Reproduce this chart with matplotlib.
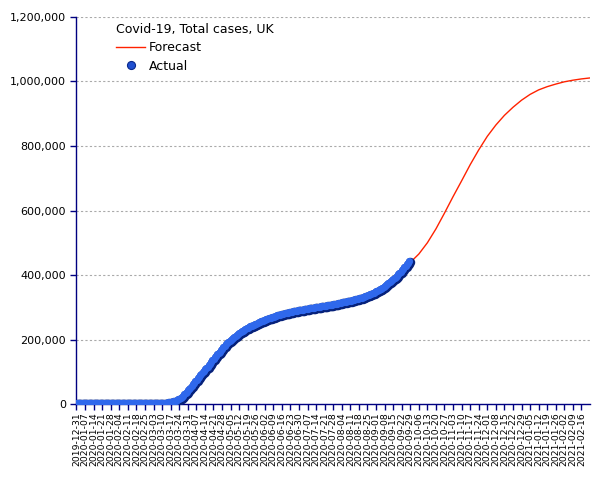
import matplotlib
matplotlib.use("Agg")
import matplotlib.pyplot as plt
import matplotlib.transforms as mtransforms
from matplotlib.lines import Line2D
from matplotlib.ticker import FuncFormatter, MultipleLocator
import pandas as pd

# ---------------- data ----------------
start_date = "2019-12-31"

actual_dec_jan = [0] * 31 + [2]  # 2019-12-31 .. 2020-01-31
actual_feb = [2, 2, 2, 2, 2, 3, 3, 3, 4, 8, 8, 9, 9, 9, 9, 9, 9, 9, 9, 9,
              9, 9, 9, 13, 13, 13, 15, 20, 23]
actual_mar = [36, 40, 51, 85, 115, 163, 206, 273, 321, 373, 460, 600, 800, 1100,
              1500, 2000, 2600, 3400, 4200, 5100, 6300, 7600, 9200, 11000, 13500,
              16200, 19500, 23000, 26500, 30200, 34500]
actual_apr = [39000, 43500, 48000, 53000, 57500, 62000, 67000, 72000, 77000, 81500,
              86000, 90500, 95000, 99500, 104000, 108500, 113000, 117500, 122000,
              127000, 132000, 137000, 141500, 146000, 150500, 155000, 159500,
              164000, 168500, 173000]
actual_may = [177500, 181500, 185500, 189500, 193000, 196500, 200000, 203000, 206000,
              209000, 212000, 214500, 217000, 219500, 222000, 224500, 227000, 229500,
              231500, 233500, 235500, 237500, 239500, 241000, 242800, 244600, 246400,
              248200, 250000, 251600, 253200]
actual_jun = [254800, 256300, 257800, 259300, 260800, 262200, 263600, 265000, 266400,
              267800, 269200, 270500, 271600, 272600, 273600, 274600, 275600, 276600,
              277600, 278600, 279600, 280600, 281600, 282600, 283500, 284300, 285000,
              285700, 286400, 287100]
actual_jul = [287800, 288500, 289200, 289900, 290600, 291300, 292000, 292700, 293400,
              294000, 294600, 295200, 295800, 296400, 297000, 297600, 298200, 298800,
              299400, 300000, 300600, 301200, 301900, 302600, 303300, 304000, 304700,
              305400, 306100, 306900, 307700]
actual_aug = [308500, 309300, 310100, 310900, 311800, 312600, 313400, 314200, 315000,
              315800, 316600, 317500, 318400, 319400, 320400, 321400, 322400, 323400,
              324500, 325700, 327000, 328300, 329600, 331000, 332500, 334000, 335500,
              337000, 338600, 340300, 342000]
actual_sep = [343800, 345800, 347900, 350100, 352400, 355000, 357500, 360000, 362700,
              365500, 368300, 371200, 374100, 377000, 380000, 383500, 387000, 390700,
              394600, 398600, 402700, 407000, 411500, 416000, 420500, 425000, 429500,
              434000, 439000]

# forecast, sampled weekly from 2019-12-31
forecast = [0, 0, 0, 0, 0, 0, 0, 0, 100, 300, 1500, 3000, 14000, 36000, 66000,
            100000, 131000, 164000, 193000, 215000, 232000, 244000, 256000, 266000,
            275000, 282000, 287000, 292000, 296000, 301000, 306000, 312000, 318000,
            324000, 333000, 344000, 360000, 380000, 407000, 439000, 465000, 500000,
            543000, 592000, 643000, 692000, 742000, 788000, 830000, 865000, 895000,
            920000, 942000, 960000, 974000, 984000, 992000, 999000, 1004000, 1008000,
            1011000]

legend_title = "Covid-19, Total cases, UK"
label_forecast = "Forecast"
label_actual = "Actual"

# ---------------- build series ----------------
actual = (actual_dec_jan + actual_feb + actual_mar + actual_apr + actual_may +
          actual_jun + actual_jul + actual_aug + actual_sep)
actual_dates = pd.date_range(start_date, periods=len(actual), freq="D")
forecast_dates = pd.date_range(start_date, periods=len(forecast), freq="7D")
tick_dates = pd.date_range(start_date, "2021-02-16", freq="7D")

# ---------------- plot ----------------
navy = "#000080"
red = "#ff2200"
fig = plt.figure(figsize=(6.05, 4.8), dpi=100)
ax = fig.add_axes([0.1264, 0.1583, 0.9752 - 0.1264, 0.9646 - 0.1583])

ax.plot(forecast_dates, forecast, color=red, lw=1.0, zorder=2)

# sphere-like markers: dark base + lighter offset highlight
ax.plot(actual_dates, actual, ls="none", marker="o", ms=6.8,
        mfc="#06217a", mec="#06217a", mew=0, zorder=3)
hl = mtransforms.offset_copy(ax.transData, fig=fig, x=-1.0, y=1.0, units="dots")
ax.plot(actual_dates, actual, ls="none", marker="o", ms=5.2,
        mfc="#2f68ec", mec="#2f68ec", mew=0, zorder=4, transform=hl)

ax.set_xlim(pd.Timestamp(start_date), pd.Timestamp("2021-02-23"))
ax.set_ylim(0, 1200000)

ax.yaxis.set_major_locator(MultipleLocator(200000))
ax.yaxis.set_major_formatter(FuncFormatter(lambda v, p: f"{int(v):,}"))
ax.set_xticks(tick_dates)
ax.set_xticklabels([d.strftime("%Y-%m-%d") for d in tick_dates], rotation=90,
                   fontsize=6.7)
ax.tick_params(axis="y", labelsize=8, colors=navy, labelcolor="black",
               length=4, width=1)
ax.tick_params(axis="x", colors=navy, labelcolor="black", length=4, width=1, pad=2)

for s in ("top", "right"):
    ax.spines[s].set_visible(False)
for s in ("left", "bottom"):
    ax.spines[s].set_color(navy)
    ax.spines[s].set_linewidth(1.0)

ax.grid(axis="y", color="#aaaaaa", linestyle=(0, (2, 2)), linewidth=0.8)
ax.set_axisbelow(True)

handles = [Line2D([], [], color=red, lw=1.0),
           Line2D([], [], ls="none", marker="o", ms=5.8, mfc="#1f4fd0",
                  mec="#0a2a8c", mew=0.8)]
leg = ax.legend(handles, [label_forecast, label_actual], title=legend_title,
                loc="upper left", bbox_to_anchor=(0.067, 0.997), frameon=False,
                fontsize=9, title_fontsize=9, handlelength=2.35, handletextpad=0.3,
                labelspacing=0.42, borderaxespad=0)
leg._legend_box.align = "left"

fig.savefig("out.png", dpi=100)
